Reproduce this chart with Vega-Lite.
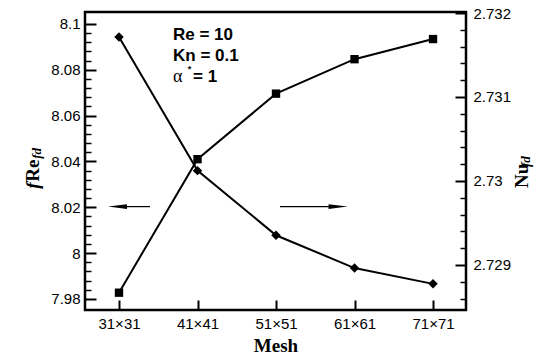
{
  "$schema": "https://vega.github.io/schema/vega-lite/v6.json",
  "width": 381,
  "height": 298,
  "autosize": "none",
  "padding": {"left": 85, "top": 12, "right": 76, "bottom": 48},
  "config": {
    "font": "Liberation Sans",
    "view": {"stroke": "#000", "strokeWidth": 2.5},
    "axis": {"grid": false, "domain": false, "labelFont": "Liberation Sans", "labelFontSize": 15, "labelColor": "#000", "tickColor": "#000", "tickWidth": 2, "tickOpacity": 1}
  },
  "encoding": {
    "x": {
      "field": "x", "type": "quantitative",
      "scale": {"domain": [26.67, 75.2], "nice": false, "zero": false},
      "axis": {
        "title": "Mesh", "titleFont": "Liberation Serif", "titleFontSize": 19, "titleFontWeight": "bold", "titleColor": "#000", "titlePadding": 5,
        "values": [31, 41, 51, 61, 71],
        "labelExpr": "datum.value + '×' + datum.value",
        "tickSize": -10, "labelPadding": 16, "tickColor": "#000", "tickWidth": 2
      }
    }
  },
  "layer": [
    {
      "encoding": {
        "y": {
          "field": "y", "type": "quantitative",
          "scale": {"domain": [7.9752, 8.1052], "nice": false, "zero": false}
        }
      },
      "layer": [
        {
          "data": {"values": [{"x": 31, "y": 8.0943}, {"x": 41, "y": 8.036}, {"x": 51, "y": 8.0078}, {"x": 61, "y": 7.9935}, {"x": 71, "y": 7.9866}]},
          "mark": {"type": "line", "color": "#000", "strokeWidth": 2},
          "encoding": {
            "y": {
              "field": "y", "type": "quantitative",
              "axis": {
                "orient": "left", "title": null,
                "values": [7.98, 8, 8.02, 8.04, 8.06, 8.08, 8.1],
                "labelExpr": "format(datum.value, '~g')",
                "tickSize": -11, "labelPadding": 16, "tickColor": "#000", "tickWidth": 2
              }
            }
          }
        },
        {
          "data": {"values": [{"x": 31, "y": 8.0943}, {"x": 41, "y": 8.036}, {"x": 51, "y": 8.0078}, {"x": 61, "y": 7.9935}, {"x": 71, "y": 7.9866}]},
          "mark": {"type": "point", "shape": "diamond", "filled": true, "color": "#000", "size": 90, "opacity": 1},
          "encoding": {
            "y": {
              "field": "y", "type": "quantitative",
              "axis": {
                "orient": "left", "title": null, "labels": false,
                "values": [7.984, 7.988, 7.992, 7.996, 8.004, 8.008, 8.012, 8.016, 8.024, 8.028, 8.032, 8.036, 8.044, 8.048, 8.052, 8.056, 8.064, 8.068, 8.072, 8.076, 8.084, 8.088, 8.092, 8.096],
                "tickSize": -6, "tickColor": "#000", "tickWidth": 1.5
              }
            }
          }
        },
        {
          "data": {"values": [{"x": 31.76, "x2": 34.95, "y": 8.0203}, {"x": 51.51, "x2": 57.88, "y": 8.0203}]},
          "mark": {"type": "rule", "color": "#000", "strokeWidth": 1.2},
          "encoding": {"x2": {"field": "x2"}, "y": {"field": "y", "type": "quantitative", "axis": null}}
        },
        {
          "data": {"values": [{"x": 30.81, "y": 8.0203, "dir": "left"}, {"x": 58.9, "y": 8.0203, "dir": "right"}]},
          "mark": {"type": "point", "filled": true, "color": "#000", "size": 361, "opacity": 1},
          "encoding": {
            "y": {"field": "y", "type": "quantitative", "axis": null},
            "shape": {"field": "dir", "type": "nominal", "scale": {"domain": ["left", "right"], "range": ["M-1,0L1,-0.25L1,0.25Z", "M1,0L-1,-0.25L-1,0.25Z"]}, "legend": null}
          }
        }
      ],
      "resolve": {"axis": {"y": "independent"}}
    },
    {
      "encoding": {
        "y": {
          "field": "y", "type": "quantitative",
          "scale": {"domain": [2.728464, 2.732012], "nice": false, "zero": false}
        }
      },
      "layer": [
        {
          "data": {"values": [{"x": 31, "y": 2.72867}, {"x": 41, "y": 2.73026}, {"x": 51, "y": 2.73104}, {"x": 61, "y": 2.73145}, {"x": 71, "y": 2.73169}]},
          "mark": {"type": "line", "color": "#000", "strokeWidth": 2},
          "encoding": {
            "y": {
              "field": "y", "type": "quantitative",
              "axis": {
                "orient": "right", "title": null,
                "values": [2.729, 2.73, 2.731, 2.732],
                "labelExpr": "format(datum.value, '~g')",
                "tickSize": -11, "labelPadding": 18, "tickColor": "#000", "tickWidth": 2
              }
            }
          }
        },
        {
          "data": {"values": [{"x": 31, "y": 2.72867}, {"x": 41, "y": 2.73026}, {"x": 51, "y": 2.73104}, {"x": 61, "y": 2.73145}, {"x": 71, "y": 2.73169}]},
          "mark": {"type": "point", "shape": "square", "filled": true, "color": "#000", "size": 70, "opacity": 1},
          "encoding": {
            "y": {
              "field": "y", "type": "quantitative",
              "axis": {
                "orient": "right", "title": null, "labels": false,
                "values": [2.7286, 2.7288, 2.7292, 2.7294, 2.7296, 2.7298, 2.7302, 2.7304, 2.7306, 2.7308, 2.7312, 2.7314, 2.7316, 2.7318],
                "tickSize": -6, "tickColor": "#000", "tickWidth": 1.5
              }
            }
          }
        },
        {
          "data": {"values": [{"x": 82.34, "y": 2.729917, "t": "Nu"}]},
          "mark": {"type": "text", "align": "left", "baseline": "middle", "angle": 270, "font": "Liberation Serif", "fontSize": 19, "fontWeight": "bold", "color": "#000"},
          "encoding": {"text": {"field": "t"}, "y": {"field": "y", "type": "quantitative", "axis": null}}
        },
        {
          "data": {"values": [{"x": 82.9, "y": 2.730167, "t": "fd"}]},
          "mark": {"type": "text", "align": "left", "baseline": "middle", "angle": 270, "font": "Liberation Serif", "fontSize": 13, "fontWeight": "bold", "fontStyle": "italic", "color": "#000"},
          "encoding": {"text": {"field": "t"}, "y": {"field": "y", "type": "quantitative", "axis": null}}
        }
      ],
      "resolve": {"axis": {"y": "independent"}}
    },
    {
      "encoding": {
        "y": {
          "field": "y", "type": "quantitative",
          "scale": {"domain": [7.9752, 8.1052], "nice": false, "zero": false},
          "axis": null
        }
      },
      "layer": [
        {
          "data": {"values": [{"x": 37.88, "y": 8.0952, "t": "Re = 10"}, {"x": 37.88, "y": 8.0861, "t": "Kn = 0.1"}, {"x": 40.43, "y": 8.0769, "t": "= 1"}]},
          "mark": {"type": "text", "align": "left", "baseline": "middle", "font": "Liberation Sans", "fontSize": 17, "fontWeight": "bold", "color": "#000"},
          "encoding": {"text": {"field": "t"}}
        },
        {
          "data": {"values": [{"x": 37.88, "y": 8.0769, "t": "α"}]},
          "mark": {"type": "text", "align": "left", "baseline": "middle", "font": "Liberation Serif", "fontSize": 18, "color": "#000"},
          "encoding": {"text": {"field": "t"}}
        },
        {
          "data": {"values": [{"x": 39.75, "y": 8.0805, "t": "*"}]},
          "mark": {"type": "text", "align": "left", "baseline": "middle", "font": "Liberation Sans", "fontSize": 9, "fontWeight": "bold", "color": "#000"},
          "encoding": {"text": {"field": "t"}}
        },
        {
          "data": {"values": [{"x": 20.04, "y": 8.0281, "t": "f"}]},
          "mark": {"type": "text", "align": "left", "baseline": "middle", "angle": 270, "font": "Liberation Serif", "fontSize": 19, "fontWeight": "bold", "fontStyle": "italic", "color": "#000"},
          "encoding": {"text": {"field": "t"}}
        },
        {
          "data": {"values": [{"x": 20.04, "y": 8.0312, "t": "Re"}]},
          "mark": {"type": "text", "align": "left", "baseline": "middle", "angle": 270, "font": "Liberation Serif", "fontSize": 19, "fontWeight": "bold", "color": "#000"},
          "encoding": {"text": {"field": "t"}}
        },
        {
          "data": {"values": [{"x": 20.6, "y": 8.0412, "t": "fd"}]},
          "mark": {"type": "text", "align": "left", "baseline": "middle", "angle": 270, "font": "Liberation Serif", "fontSize": 13, "fontWeight": "bold", "fontStyle": "italic", "color": "#000"},
          "encoding": {"text": {"field": "t"}}
        }
      ]
    }
  ],
  "resolve": {"scale": {"y": "independent"}, "axis": {"y": "independent"}}
}
